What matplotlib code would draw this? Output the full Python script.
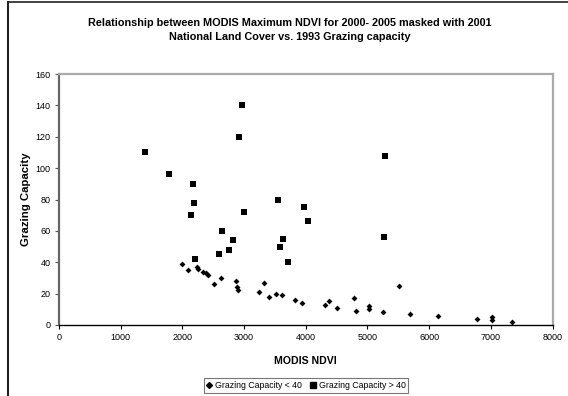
import matplotlib
matplotlib.use("Agg")
import matplotlib.pyplot as plt
from matplotlib.lines import Line2D

plt.rcParams['font.family'] = ['Liberation Sans', 'DejaVu Sans']

# Grazing capacity < 40 (diamonds)
low_x = [1990, 2090, 2230, 2255, 2340, 2380, 2420, 2505, 2630, 2870, 2880, 2895,
         3245, 3320, 3400, 3525, 3620, 3827, 3935, 4304, 4379, 4504, 4775, 4818,
         5024, 5030, 5257, 5512, 5691, 6141, 6770, 7024, 7019, 7344]
low_y = [39, 35, 37, 36, 34, 33, 32, 26, 30, 28, 24, 22,
         21, 27, 18, 20, 19, 16, 14, 13, 15, 11, 17, 9,
         12, 10, 8, 25, 7, 6, 4, 5, 3, 2]

# Grazing capacity > 40 (squares)
high_x = [1390, 1790, 2180, 2190, 2146, 2200, 2596, 2640, 2748, 2824, 2911, 2959,
          3003, 3556, 3588, 3626, 3713, 3967, 4043, 5279, 5268]
high_y = [110, 96, 90, 78, 70, 42, 45, 60, 48, 54, 120, 140,
          72, 80, 50, 55, 40, 75, 66, 108, 56]

x_ticks = [0, 1000, 2000, 3000, 4000, 5000, 6000, 7000, 8000]
y_ticks = [0, 20, 40, 60, 80, 100, 120, 140, 160]

W, H = 568, 396
fig = plt.figure(figsize=(W / 100, H / 100), dpi=100)
ax = fig.add_axes([59 / W, 1 - 325 / H, (552.5 - 59) / W, (325 - 74) / H])

ax.scatter(low_x, low_y, marker='D', s=9, color='black', linewidths=0, zorder=3)
ax.scatter(high_x, high_y, marker='s', s=18, color='black', linewidths=0, zorder=3)

ax.set_xlim(0, 8000)
ax.set_ylim(0, 160)
ax.set_xticks(x_ticks)
ax.set_yticks(y_ticks)
ax.tick_params(axis='both', labelsize=6.5, length=3, width=0.8, direction='out',
               colors='black', pad=3)
ax.tick_params(axis='y', color='#555555')

ax.spines['left'].set_color('#666666')
ax.spines['left'].set_linewidth(1.6)
ax.spines['bottom'].set_color('black')
ax.spines['bottom'].set_linewidth(1.0)
ax.spines['top'].set_color('#aaaaaa')
ax.spines['top'].set_linewidth(1.6)
ax.spines['right'].set_color('#aaaaaa')
ax.spines['right'].set_linewidth(1.6)

ax.set_xlabel('MODIS NDVI', fontsize=7.6, fontweight='bold')
ax.set_ylabel('Grazing Capacity', fontsize=8.2, fontweight='bold')
ax.xaxis.set_label_coords(0.5, (325 - 361) / 251, transform=ax.transAxes)
ax.xaxis.label.set_va('center')
ax.yaxis.set_label_coords((26 - 59) / 493.5, 0.5, transform=ax.transAxes)
ax.yaxis.label.set_va('center')

fig.text(290 / W, 1 - 23 / H, 'Relationship between MODIS Maximum NDVI for 2000- 2005 masked with 2001',
         ha='center', va='center', fontsize=7.8, fontweight='bold')
fig.text(290 / W, 1 - 37 / H, 'National Land Cover vs. 1993 Grazing capacity',
         ha='center', va='center', fontsize=7.8, fontweight='bold')

handles = [
    Line2D([], [], marker='D', markersize=3, color='black', linestyle='none'),
    Line2D([], [], marker='s', markersize=4, color='black', linestyle='none'),
]
leg = fig.legend(handles, ['Grazing Capacity < 40', 'Grazing Capacity > 40'],
                 loc='center', bbox_to_anchor=(306 / W, 1 - 385.5 / H), ncol=2,
                 fontsize=6.3, frameon=True, fancybox=False, handlelength=0.7,
                 handletextpad=0.3, columnspacing=0.9, borderpad=0.3,
                 borderaxespad=0)
leg.get_frame().set_edgecolor('#555555')
leg.get_frame().set_linewidth(0.8)

# figure border (left and top)
fig.add_artist(Line2D([7.5 / W, 7.5 / W], [0, 1 - 2 / H], color='#222222', linewidth=1.5,
                      transform=fig.transFigure))
fig.add_artist(Line2D([7.5 / W, 1], [1 - 2 / H, 1 - 2 / H], color='#222222', linewidth=1.2,
                      transform=fig.transFigure))

fig.savefig('out.png', dpi=100)
